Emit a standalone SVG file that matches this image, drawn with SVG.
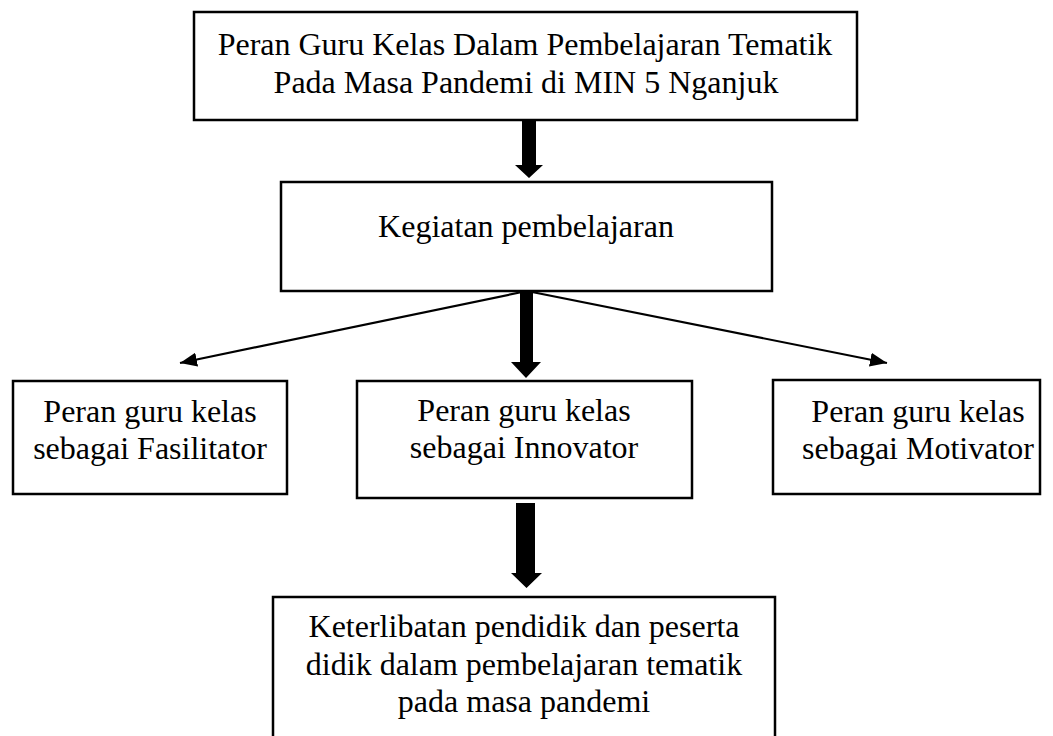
<svg xmlns="http://www.w3.org/2000/svg" width="1053" height="736" viewBox="0 0 1053 736">
<style>
.box{fill:#fff;stroke:#000;stroke-width:2.5}
.t{font-family:"Liberation Serif","Times New Roman",serif;font-size:32px;fill:#000;text-anchor:middle}
.thin{stroke:#000;stroke-width:2.2;fill:none}
.thick{fill:#000;stroke:none}
</style>
<defs>
<marker id="ah" markerUnits="userSpaceOnUse" markerWidth="18" markerHeight="14" refX="17" refY="7" orient="auto">
<path d="M0,0 L17,7 L0,14 z" fill="#000"/>
</marker>
</defs>
<rect width="1053" height="736" fill="#fff"/>
<g id="connectors">
<polygon class="thick" points="522,120 536,120 536,165 543,165 529,178 515,165 522,165"/>
<polygon class="thick" points="520,291 533,291 533,362 541,362 526,378 511,362 520,362"/>
<polygon class="thick" points="516,503 535,503 535,573 542,573 526.5,588 511,573 516,573"/>
<line class="thin" x1="527" y1="291" x2="180" y2="363" marker-end="url(#ah)"/>
<line class="thin" x1="527" y1="291" x2="887" y2="363" marker-end="url(#ah)"/>
</g>
<g id="node-top">
<rect class="box" x="194" y="12" width="663" height="108"/>
<text class="t" x="525" y="55">Peran Guru Kelas Dalam Pembelajaran Tematik</text>
<text class="t" x="526" y="93">Pada Masa Pandemi di MIN 5 Nganjuk</text>
</g>
<g id="node-kegiatan">
<rect class="box" x="281" y="182" width="491" height="109"/>
<text class="t" x="526" y="237">Kegiatan pembelajaran</text>
</g>
<g id="node-fasilitator">
<rect class="box" x="13" y="381" width="274" height="113"/>
<text class="t" x="150" y="422">Peran guru kelas</text>
<text class="t" x="150" y="459">sebagai Fasilitator</text>
</g>
<g id="node-innovator">
<rect class="box" x="357" y="381" width="335" height="117"/>
<text class="t" x="524" y="421">Peran guru kelas</text>
<text class="t" x="524" y="458">sebagai Innovator</text>
</g>
<g id="node-motivator">
<rect class="box" x="773" y="380" width="267" height="114"/>
<text class="t" x="918" y="422">Peran guru kelas</text>
<text class="t" x="918" y="459">sebagai Motivator</text>
</g>
<g id="node-keterlibatan">
<rect class="box" x="273" y="597" width="502" height="150"/>
<text class="t" x="524" y="637">Keterlibatan pendidik dan peserta</text>
<text class="t" x="524" y="675">didik dalam pembelajaran tematik</text>
<text class="t" x="524" y="712">pada masa pandemi</text>
</g>
</svg>
